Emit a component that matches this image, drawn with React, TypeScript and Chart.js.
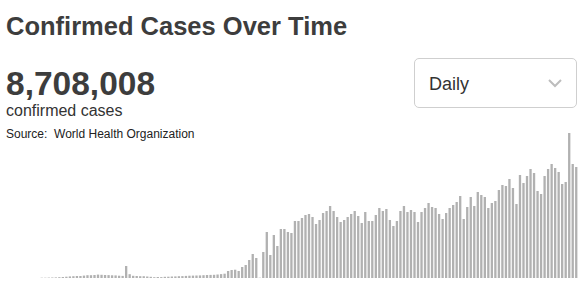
import React, { useEffect, useRef } from "react";
import { Chart, registerables } from "chart.js";

Chart.register(...registerables);

const TITLE = "Confirmed Cases Over Time";
const TOTAL_LABEL = "8,708,008";
const SUBTITLE = "confirmed cases";
const SOURCE = "Source:\u00a0 World Health Organization";
const PERIOD_OPTIONS = ["Daily", "Cumulative"];

const START_DATE = "2020-01-21";

const dailyCases: number[] = [
  375, 375, 500, 625, 750, 1000, 1250, 1625, 2000, 2250,
  2500, 2500, 3000, 3500, 3500, 3750, 4250, 4000, 3750, 3625,
  3375, 3250, 2875, 2625, 15000, 4750, 2750, 2500, 2250, 2250,
  1875, 1500, 1000, 1250, 1125, 1500, 1625, 1875, 2000, 2250,
  2375, 2625, 2875, 3000, 3125, 3250, 3500, 3750, 3875, 4000,
  4375, 4875, 5375, 8750, 10000, 10375, 8750, 13750, 16250, 22500,
  30000, 25000, 375, 32500, 57500, 28750, 53750, 40000, 61250, 61250,
  57500, 56250, 71250, 71250, 75000, 78750, 80000, 76250, 67500, 72500,
  81250, 83750, 90000, 83750, 76250, 70000, 72500, 76250, 80000, 83750,
  77500, 68750, 82500, 71250, 71250, 78750, 87500, 83750, 86250, 72500,
  65000, 71250, 83750, 90000, 82500, 85000, 82500, 70000, 82500, 87500,
  93750, 88750, 87500, 80000, 73750, 81250, 87500, 91250, 95000, 102500,
  73750, 88750, 101250, 90000, 107500, 103750, 101250, 87500, 93750, 96250,
  110000, 116250, 115000, 123750, 112500, 92500, 128750, 118750, 127500, 136250,
  131250, 108750, 105000, 127500, 136250, 142500, 137500, 132500, 117500, 120000,
  181250, 142500, 138750,
];

const Y_MAX = 197500;

function buildLabels(start: string, n: number): string[] {
  const out: string[] = [];
  const d = new Date(start + "T00:00:00Z");
  for (let i = 0; i < n; i++) {
    const c = new Date(d.getTime() + i * 86400000);
    out.push(c.toISOString().slice(0, 10));
  }
  return out;
}

const FONT = "'Liberation Sans', Arial, Helvetica, sans-serif";

export default function App() {
  const ref = useRef<HTMLCanvasElement | null>(null);

  useEffect(() => {
    if (!ref.current) return;
    const labels = buildLabels(START_DATE, dailyCases.length);
    const chart = new Chart(ref.current, {
      type: "bar",
      data: {
        labels,
        datasets: [
          {
            label: "Daily confirmed cases",
            data: dailyCases,
            backgroundColor: "#b1b1b1",
            borderWidth: 0,
            barPercentage: 0.66,
            categoryPercentage: 1,
          },
        ],
      },
      options: {
        responsive: false,
        animation: false,
        devicePixelRatio: 1,
        layout: { padding: 0 },
        plugins: {
          legend: { display: false },
          tooltip: { enabled: false },
          title: { display: false },
        },
        scales: {
          x: { display: false, grid: { display: false } },
          y: { display: false, min: 0, max: Y_MAX, grid: { display: false } },
        },
      },
    });
    return () => chart.destroy();
  }, []);

  const text = (
    content: string,
    top: number,
    size: number,
    weight: number,
    color: string,
    left = 6
  ) => (
    <div
      style={{
        position: "absolute",
        left,
        top,
        fontFamily: FONT,
        fontSize: size,
        lineHeight: `${size}px`,
        fontWeight: weight,
        color,
        whiteSpace: "pre",
      }}
    >
      {content}
    </div>
  );

  return (
    <div
      style={{
        position: "fixed",
        left: 0,
        top: 0,
        width: 588,
        height: 290,
        background: "#ffffff",
        overflow: "hidden",
      }}
    >
      {text(TITLE, 14.1, 25.5, 700, "#3d3d3d")}
      {text(TOTAL_LABEL, 67.3, 33.5, 700, "#3d3d3d")}
      {text(SUBTITLE, 103.2, 16, 400, "#333333")}
      {text(SOURCE, 127.5, 12, 400, "#222222")}

      <div
        style={{
          position: "absolute",
          left: 414,
          top: 58,
          width: 163,
          height: 50,
          boxSizing: "border-box",
          border: "1px solid #cfcfcf",
          borderRadius: 5,
          background: "#fff",
        }}
      >
        <div
          style={{
            position: "absolute",
            left: 14,
            top: 15.5,
            fontFamily: FONT,
            fontSize: 18,
            lineHeight: "18px",
            color: "#333",
          }}
        >
          {PERIOD_OPTIONS[0]}
        </div>
        <svg
          width={20}
          height={14}
          style={{ position: "absolute", left: 130, top: 18 }}
        >
          <polyline
            points="4,3 10,9 16,3"
            fill="none"
            stroke="#bdbdbd"
            strokeWidth={2}
          />
        </svg>
      </div>

      <canvas
        ref={ref}
        width={538}
        height={158}
        style={{
          position: "absolute",
          left: 40,
          top: 120,
          width: 538,
          height: 158,
        }}
      />
    </div>
  );
}
